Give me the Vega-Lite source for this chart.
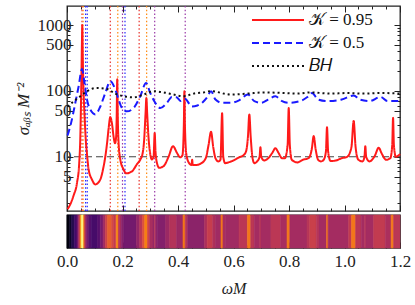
{
 "$schema": "https://vega.github.io/schema/vega-lite/v6.json",
 "padding": {"left": 13, "top": 4, "right": 2, "bottom": 4},
 "background": "white",
 "config": {
  "font": "Liberation Serif",
  "view": {"stroke": "#222", "strokeWidth": 1.3},
  "axis": {"labelFont": "Liberation Serif", "titleFont": "Liberation Serif", "labelFontSize": 17, "titleFontSize": 17, "labelColor": "#222", "titleColor": "#222", "titleFontWeight": "normal", "grid": false, "domain": false, "tickColor": "#222", "labelOverlap": false, "labelFlush": false, "labelBound": false},
  "legend": {"labelFont": "Liberation Serif", "labelFontSize": 17, "labelColor": "#111"}
 },
 "datasets": {
  "curves": [
   {"s":"𝒦 = 0.95","x":0.002,"v":1.6},{"s":"𝒦 = 0.95","x":0.012,"v":1.9},{"s":"𝒦 = 0.95","x":0.024,"v":2.6},{"s":"𝒦 = 0.95","x":0.036,"v":4.0},{"s":"𝒦 = 0.95","x":0.044,"v":8},{"s":"𝒦 = 0.95","x":0.048,"v":20},{"s":"𝒦 = 0.95","x":0.051,"v":90},{"s":"𝒦 = 0.95","x":0.054,"v":600},{"s":"𝒦 = 0.95","x":0.055,"v":1000},{"s":"𝒦 = 0.95","x":0.057,"v":300},{"s":"𝒦 = 0.95","x":0.060,"v":90},{"s":"𝒦 = 0.95","x":0.063,"v":45},{"s":"𝒦 = 0.95","x":0.067,"v":20},{"s":"𝒦 = 0.95","x":0.072,"v":11},{"s":"𝒦 = 0.95","x":0.078,"v":6.4},{"s":"𝒦 = 0.95","x":0.09,"v":4.5},{"s":"𝒦 = 0.95","x":0.102,"v":3.8},{"s":"𝒦 = 0.95","x":0.12,"v":4.5},{"s":"𝒦 = 0.95","x":0.13,"v":6.5},{"s":"𝒦 = 0.95","x":0.138,"v":10},{"s":"𝒦 = 0.95","x":0.145,"v":17},{"s":"𝒦 = 0.95","x":0.150,"v":27},{"s":"𝒦 = 0.95","x":0.156,"v":40},{"s":"𝒦 = 0.95","x":0.162,"v":32},{"s":"𝒦 = 0.95","x":0.168,"v":20},{"s":"𝒦 = 0.95","x":0.173,"v":16},{"s":"𝒦 = 0.95","x":0.177,"v":20},{"s":"𝒦 = 0.95","x":0.179,"v":40},{"s":"𝒦 = 0.95","x":0.181,"v":150},{"s":"𝒦 = 0.95","x":0.183,"v":40},{"s":"𝒦 = 0.95","x":0.186,"v":16},{"s":"𝒦 = 0.95","x":0.192,"v":9.1},{"s":"𝒦 = 0.95","x":0.204,"v":6.4},{"s":"𝒦 = 0.95","x":0.213,"v":5.6},{"s":"𝒦 = 0.95","x":0.234,"v":6.0},{"s":"𝒦 = 0.95","x":0.252,"v":7.7},{"s":"𝒦 = 0.95","x":0.265,"v":9.2},{"s":"𝒦 = 0.95","x":0.272,"v":11},{"s":"𝒦 = 0.95","x":0.278,"v":18},{"s":"𝒦 = 0.95","x":0.283,"v":45},{"s":"𝒦 = 0.95","x":0.286,"v":78},{"s":"𝒦 = 0.95","x":0.289,"v":45},{"s":"𝒦 = 0.95","x":0.293,"v":22},{"s":"𝒦 = 0.95","x":0.300,"v":11},{"s":"𝒦 = 0.95","x":0.306,"v":9.1},{"s":"𝒦 = 0.95","x":0.312,"v":10},{"s":"𝒦 = 0.95","x":0.316,"v":23},{"s":"𝒦 = 0.95","x":0.319,"v":12},{"s":"𝒦 = 0.95","x":0.324,"v":8.1},{"s":"𝒦 = 0.95","x":0.332,"v":6.8},{"s":"𝒦 = 0.95","x":0.348,"v":7.2},{"s":"𝒦 = 0.95","x":0.366,"v":10},{"s":"𝒦 = 0.95","x":0.382,"v":14.5},{"s":"𝒦 = 0.95","x":0.396,"v":11.5},{"s":"𝒦 = 0.95","x":0.408,"v":9.8},{"s":"𝒦 = 0.95","x":0.416,"v":10.5},{"s":"𝒦 = 0.95","x":0.421,"v":30},{"s":"𝒦 = 0.95","x":0.423,"v":99},{"s":"𝒦 = 0.95","x":0.425,"v":30},{"s":"𝒦 = 0.95","x":0.43,"v":11},{"s":"𝒦 = 0.95","x":0.44,"v":8},{"s":"𝒦 = 0.95","x":0.449,"v":7.5},{"s":"𝒦 = 0.95","x":0.451,"v":9},{"s":"𝒦 = 0.95","x":0.453,"v":7.5},{"s":"𝒦 = 0.95","x":0.465,"v":7.5},{"s":"𝒦 = 0.95","x":0.48,"v":7.8},{"s":"𝒦 = 0.95","x":0.50,"v":9.5},{"s":"𝒦 = 0.95","x":0.51,"v":15},{"s":"𝒦 = 0.95","x":0.519,"v":24},{"s":"𝒦 = 0.95","x":0.527,"v":14},{"s":"𝒦 = 0.95","x":0.535,"v":9.5},{"s":"𝒦 = 0.95","x":0.545,"v":8.5},{"s":"𝒦 = 0.95","x":0.553,"v":9},{"s":"𝒦 = 0.95","x":0.559,"v":46},{"s":"𝒦 = 0.95","x":0.563,"v":10},{"s":"𝒦 = 0.95","x":0.57,"v":8},{"s":"𝒦 = 0.95","x":0.585,"v":8.3},{"s":"𝒦 = 0.95","x":0.60,"v":8.8},{"s":"𝒦 = 0.95","x":0.62,"v":9.8},{"s":"𝒦 = 0.95","x":0.635,"v":10.5},{"s":"𝒦 = 0.95","x":0.645,"v":12},{"s":"𝒦 = 0.95","x":0.652,"v":20},{"s":"𝒦 = 0.95","x":0.657,"v":44},{"s":"𝒦 = 0.95","x":0.662,"v":20},{"s":"𝒦 = 0.95","x":0.668,"v":10},{"s":"𝒦 = 0.95","x":0.675,"v":8},{"s":"𝒦 = 0.95","x":0.685,"v":8.5},{"s":"𝒦 = 0.95","x":0.694,"v":10},{"s":"𝒦 = 0.95","x":0.697,"v":14},{"s":"𝒦 = 0.95","x":0.700,"v":10},{"s":"𝒦 = 0.95","x":0.71,"v":8.8},{"s":"𝒦 = 0.95","x":0.725,"v":9.5},{"s":"𝒦 = 0.95","x":0.74,"v":11.5},{"s":"𝒦 = 0.95","x":0.751,"v":13.5},{"s":"𝒦 = 0.95","x":0.762,"v":11.5},{"s":"𝒦 = 0.95","x":0.775,"v":9.5},{"s":"𝒦 = 0.95","x":0.785,"v":9.5},{"s":"𝒦 = 0.95","x":0.795,"v":15},{"s":"𝒦 = 0.95","x":0.799,"v":55},{"s":"𝒦 = 0.95","x":0.803,"v":15},{"s":"𝒦 = 0.95","x":0.81,"v":9},{"s":"𝒦 = 0.95","x":0.83,"v":8.2},{"s":"𝒦 = 0.95","x":0.85,"v":9},{"s":"𝒦 = 0.95","x":0.87,"v":9.5},{"s":"𝒦 = 0.95","x":0.882,"v":13},{"s":"𝒦 = 0.95","x":0.889,"v":20.6},{"s":"𝒦 = 0.95","x":0.896,"v":13},{"s":"𝒦 = 0.95","x":0.905,"v":9},{"s":"𝒦 = 0.95","x":0.915,"v":8.5},{"s":"𝒦 = 0.95","x":0.925,"v":9},{"s":"𝒦 = 0.95","x":0.933,"v":12},{"s":"𝒦 = 0.95","x":0.937,"v":28},{"s":"𝒦 = 0.95","x":0.941,"v":12},{"s":"𝒦 = 0.95","x":0.95,"v":8.6},{"s":"𝒦 = 0.95","x":0.97,"v":8.8},{"s":"𝒦 = 0.95","x":0.99,"v":9.5},{"s":"𝒦 = 0.95","x":1.01,"v":10},{"s":"𝒦 = 0.95","x":1.025,"v":14},{"s":"𝒦 = 0.95","x":1.033,"v":35},{"s":"𝒦 = 0.95","x":1.04,"v":14},{"s":"𝒦 = 0.95","x":1.05,"v":9},{"s":"𝒦 = 0.95","x":1.065,"v":8.5},{"s":"𝒦 = 0.95","x":1.072,"v":10},{"s":"𝒦 = 0.95","x":1.075,"v":14.5},{"s":"𝒦 = 0.95","x":1.078,"v":10},{"s":"𝒦 = 0.95","x":1.09,"v":8.5},{"s":"𝒦 = 0.95","x":1.11,"v":10.5},{"s":"𝒦 = 0.95","x":1.123,"v":13.7},{"s":"𝒦 = 0.95","x":1.135,"v":11},{"s":"𝒦 = 0.95","x":1.15,"v":9},{"s":"𝒦 = 0.95","x":1.165,"v":9.5},{"s":"𝒦 = 0.95","x":1.172,"v":15},{"s":"𝒦 = 0.95","x":1.175,"v":39},{"s":"𝒦 = 0.95","x":1.178,"v":15},{"s":"𝒦 = 0.95","x":1.185,"v":10},{"s":"𝒦 = 0.95","x":1.2,"v":11},
   {"s":"𝒦 = 0.5","x":0.002,"v":21},{"s":"𝒦 = 0.5","x":0.015,"v":33},{"s":"𝒦 = 0.5","x":0.03,"v":66},{"s":"𝒦 = 0.5","x":0.042,"v":118},{"s":"𝒦 = 0.5","x":0.054,"v":215},{"s":"𝒦 = 0.5","x":0.063,"v":132},{"s":"𝒦 = 0.5","x":0.072,"v":74},{"s":"𝒦 = 0.5","x":0.084,"v":52},{"s":"𝒦 = 0.5","x":0.102,"v":44},{"s":"𝒦 = 0.5","x":0.12,"v":58},{"s":"𝒦 = 0.5","x":0.138,"v":93},{"s":"𝒦 = 0.5","x":0.156,"v":140},{"s":"𝒦 = 0.5","x":0.174,"v":105},{"s":"𝒦 = 0.5","x":0.186,"v":74},{"s":"𝒦 = 0.5","x":0.198,"v":55},{"s":"𝒦 = 0.5","x":0.216,"v":49},{"s":"𝒦 = 0.5","x":0.24,"v":55},{"s":"𝒦 = 0.5","x":0.264,"v":83},{"s":"𝒦 = 0.5","x":0.285,"v":132},{"s":"𝒦 = 0.5","x":0.30,"v":93},{"s":"𝒦 = 0.5","x":0.318,"v":66},{"s":"𝒦 = 0.5","x":0.336,"v":55},{"s":"𝒦 = 0.5","x":0.36,"v":66},{"s":"𝒦 = 0.5","x":0.378,"v":81},{"s":"𝒦 = 0.5","x":0.395,"v":80},{"s":"𝒦 = 0.5","x":0.41,"v":70},{"s":"𝒦 = 0.5","x":0.425,"v":76},{"s":"𝒦 = 0.5","x":0.45,"v":58},{"s":"𝒦 = 0.5","x":0.47,"v":60},{"s":"𝒦 = 0.5","x":0.49,"v":68},{"s":"𝒦 = 0.5","x":0.505,"v":80},{"s":"𝒦 = 0.5","x":0.519,"v":99},{"s":"𝒦 = 0.5","x":0.535,"v":74},{"s":"𝒦 = 0.5","x":0.56,"v":66},{"s":"𝒦 = 0.5","x":0.59,"v":66},{"s":"𝒦 = 0.5","x":0.62,"v":72},{"s":"𝒦 = 0.5","x":0.652,"v":88},{"s":"𝒦 = 0.5","x":0.675,"v":70},{"s":"𝒦 = 0.5","x":0.70,"v":66},{"s":"𝒦 = 0.5","x":0.725,"v":74},{"s":"𝒦 = 0.5","x":0.751,"v":83},{"s":"𝒦 = 0.5","x":0.775,"v":70},{"s":"𝒦 = 0.5","x":0.80,"v":66},{"s":"𝒦 = 0.5","x":0.84,"v":70},{"s":"𝒦 = 0.5","x":0.865,"v":80},{"s":"𝒦 = 0.5","x":0.883,"v":93},{"s":"𝒦 = 0.5","x":0.905,"v":74},{"s":"𝒦 = 0.5","x":0.94,"v":70},{"s":"𝒦 = 0.5","x":0.99,"v":74},{"s":"𝒦 = 0.5","x":1.033,"v":85},{"s":"𝒦 = 0.5","x":1.055,"v":74},{"s":"𝒦 = 0.5","x":1.09,"v":70},{"s":"𝒦 = 0.5","x":1.13,"v":81},{"s":"𝒦 = 0.5","x":1.155,"v":70},{"s":"𝒦 = 0.5","x":1.2,"v":70},
   {"s":"𝐵𝐻","x":0.002,"v":58},{"s":"𝐵𝐻","x":0.025,"v":70},{"s":"𝐵𝐻","x":0.048,"v":83},{"s":"𝐵𝐻","x":0.072,"v":99},{"s":"𝐵𝐻","x":0.108,"v":111},{"s":"𝐵𝐻","x":0.144,"v":107},{"s":"𝐵𝐻","x":0.174,"v":91},{"s":"𝐵𝐻","x":0.204,"v":83},{"s":"𝐵𝐻","x":0.24,"v":80},{"s":"𝐵𝐻","x":0.276,"v":88},{"s":"𝐵𝐻","x":0.312,"v":99},{"s":"𝐵𝐻","x":0.348,"v":95},{"s":"𝐵𝐻","x":0.384,"v":88},{"s":"𝐵𝐻","x":0.42,"v":83},{"s":"𝐵𝐻","x":0.456,"v":91},{"s":"𝐵𝐻","x":0.492,"v":95},{"s":"𝐵𝐻","x":0.52,"v":99},{"s":"𝐵𝐻","x":0.59,"v":88},{"s":"𝐵𝐻","x":0.65,"v":91},{"s":"𝐵𝐻","x":0.71,"v":95},{"s":"𝐵𝐻","x":0.78,"v":93},{"s":"𝐵𝐻","x":0.83,"v":91},{"s":"𝐵𝐻","x":0.88,"v":95},{"s":"𝐵𝐻","x":0.95,"v":91},{"s":"𝐵𝐻","x":1.01,"v":93},{"s":"𝐵𝐻","x":1.07,"v":91},{"s":"𝐵𝐻","x":1.13,"v":93},{"s":"𝐵𝐻","x":1.2,"v":91}
  ],
  "marks": [
   {"x":0.054,"g":"r"},{"x":0.156,"g":"r"},{"x":0.26,"g":"r"},
   {"x":0.058,"g":"o"},{"x":0.183,"g":"o"},{"x":0.287,"g":"o"},
   {"x":0.067,"g":"b"},{"x":0.073,"g":"b"},{"x":0.209,"g":"b"},
   {"x":0.2,"g":"p"},{"x":0.316,"g":"p"},{"x":0.426,"g":"p"}
  ],
  "strip": [
   {"a":0,"b":0.008,"c":0.02},{"a":0.008,"b":0.016,"c":0.07},{"a":0.016,"b":0.026,"c":0.13},{"a":0.026,"b":0.036,"c":0.2},{"a":0.036,"b":0.042,"c":0.32},{"a":0.042,"b":0.047,"c":0.48},{"a":0.047,"b":0.051,"c":0.72},{"a":0.051,"b":0.054,"c":0.92},{"a":0.054,"b":0.058,"c":1.0},{"a":0.058,"b":0.061,"c":0.85},{"a":0.061,"b":0.065,"c":0.62},{"a":0.065,"b":0.07,"c":0.45},{"a":0.07,"b":0.078,"c":0.33},{"a":0.078,"b":0.088,"c":0.25},{"a":0.088,"b":0.11,"c":0.21},{"a":0.11,"b":0.12,"c":0.25},{"a":0.12,"b":0.13,"c":0.33},{"a":0.13,"b":0.138,"c":0.43},{"a":0.138,"b":0.146,"c":0.55},{"a":0.146,"b":0.16,"c":0.64},{"a":0.16,"b":0.168,"c":0.58},{"a":0.168,"b":0.176,"c":0.52},{"a":0.176,"b":0.179,"c":0.6},{"a":0.179,"b":0.184,"c":0.78},{"a":0.184,"b":0.188,"c":0.55},{"a":0.188,"b":0.196,"c":0.45},{"a":0.196,"b":0.204,"c":0.37},{"a":0.204,"b":0.25,"c":0.32},{"a":0.25,"b":0.262,"c":0.4},{"a":0.262,"b":0.272,"c":0.5},{"a":0.272,"b":0.28,"c":0.6},{"a":0.28,"b":0.29,"c":0.72},{"a":0.29,"b":0.298,"c":0.55},{"a":0.298,"b":0.31,"c":0.45},{"a":0.31,"b":0.315,"c":0.4},{"a":0.315,"b":0.319,"c":0.5},{"a":0.319,"b":0.325,"c":0.4},{"a":0.325,"b":0.355,"c":0.36},{"a":0.355,"b":0.37,"c":0.42},{"a":0.37,"b":0.395,"c":0.48},{"a":0.395,"b":0.418,"c":0.42},{"a":0.418,"b":0.426,"c":0.7},{"a":0.426,"b":0.435,"c":0.48},{"a":0.435,"b":0.495,"c":0.38},{"a":0.495,"b":0.505,"c":0.46},{"a":0.505,"b":0.525,"c":0.53},{"a":0.525,"b":0.535,"c":0.47},{"a":0.535,"b":0.555,"c":0.43},{"a":0.555,"b":0.562,"c":0.7},{"a":0.562,"b":0.57,"c":0.46},{"a":0.57,"b":0.62,"c":0.43},{"a":0.62,"b":0.65,"c":0.5},{"a":0.65,"b":0.662,"c":0.7},{"a":0.662,"b":0.675,"c":0.5},{"a":0.675,"b":0.695,"c":0.44},{"a":0.695,"b":0.699,"c":0.5},{"a":0.699,"b":0.735,"c":0.44},{"a":0.735,"b":0.77,"c":0.5},{"a":0.77,"b":0.793,"c":0.45},{"a":0.793,"b":0.803,"c":0.7},{"a":0.803,"b":0.865,"c":0.44},{"a":0.865,"b":0.875,"c":0.49},{"a":0.875,"b":0.898,"c":0.54},{"a":0.898,"b":0.908,"c":0.49},{"a":0.908,"b":0.935,"c":0.44},{"a":0.935,"b":0.941,"c":0.68},{"a":0.941,"b":1.015,"c":0.44},{"a":1.015,"b":1.025,"c":0.52},{"a":1.025,"b":1.04,"c":0.7},{"a":1.04,"b":1.06,"c":0.5},{"a":1.06,"b":1.073,"c":0.44},{"a":1.073,"b":1.077,"c":0.5},{"a":1.077,"b":1.105,"c":0.44},{"a":1.105,"b":1.147,"c":0.52},{"a":1.147,"b":1.168,"c":0.46},{"a":1.168,"b":1.177,"c":0.7},{"a":1.177,"b":1.2,"c":0.5}
  ]
 },
 "vconcat": [
  {
   "width": 333, "height": 205,
   "layer": [
    {
     "data": {"name": "marks"},
     "mark": {"type": "rule", "strokeDash": [1.5, 2.2]},
     "encoding": {
      "x": {"field": "x", "type": "quantitative", "scale": {"domain": [0, 1.2], "nice": false, "zero": false},
       "axis": {"orient": "bottom", "title": null, "labels": false, "values": [0,0.05,0.1,0.15,0.2,0.25,0.3,0.35,0.4,0.45,0.5,0.55,0.6,0.65,0.7,0.75,0.8,0.85,0.9,0.95,1,1.05,1.1,1.15,1.2], "tickSize": {"condition": {"test": "abs(datum.value*5 - round(datum.value*5)) < 0.01", "value": -6}, "value": -3}}},
      "color": {"field": "g", "type": "nominal", "scale": {"domain": ["r", "o", "b", "p"], "range": ["#e8302a", "#ff8a10", "#2a2aff", "#9a3aa8"]}, "legend": null},
      "size": {"field": "g", "type": "nominal", "scale": {"domain": ["r", "o", "b", "p"], "range": [1.2, 1.2, 2, 1.3]}, "legend": null}
     }
    },
    {
     "data": {"values": [{}]},
     "mark": {"type": "rule", "color": "#444", "strokeDash": [7, 4], "strokeWidth": 1.2},
     "encoding": {
      "y": {"datum": 10, "type": "quantitative",
       "axis": {"orient": "left", "title": "σₐᵦₛ M⁻²", "titleFontStyle": "italic", "titlePadding": 5, "labelPadding": 2, "labelOverlap": false, "values": [2,3,4,5,6,7,8,9,10,20,30,40,50,60,70,80,90,100,200,300,400,500,600,700,800,900,1000], "labelExpr": "indexof([5,10,50,100,500,1000], datum.value) >= 0 ? datum.value + '' : ''", "tickSize": {"condition": {"test": "indexof([5,10,50,100,500,1000], datum.value) >= 0", "value": -6}, "value": -3}}}
     }
    },
    {
     "data": {"name": "curves"},
     "mark": {"type": "line", "interpolate": "monotone", "strokeWidth": 2},
     "encoding": {
      "x": {"field": "x", "type": "quantitative", "scale": {"domain": [0, 1.2], "nice": false, "zero": false},
       "axis": {"orient": "top", "title": null, "labels": false, "values": [0,0.05,0.1,0.15,0.2,0.25,0.3,0.35,0.4,0.45,0.5,0.55,0.6,0.65,0.7,0.75,0.8,0.85,0.9,0.95,1,1.05,1.1,1.15,1.2], "tickSize": {"condition": {"test": "abs(datum.value*5 - round(datum.value*5)) < 0.01", "value": -6}, "value": -3}}},
      "y": {"field": "v", "type": "quantitative", "scale": {"type": "log", "domain": [1.5, 1950], "nice": false},
       "axis": {"orient": "right", "title": null, "labels": false, "values": [2,3,4,5,6,7,8,9,10,20,30,40,50,60,70,80,90,100,200,300,400,500,600,700,800,900,1000], "tickSize": {"condition": {"test": "indexof([5,10,50,100,500,1000], datum.value) >= 0", "value": -6}, "value": -3}}},
      "color": {"field": "s", "type": "nominal", "title": null, "scale": {"domain": ["𝒦 = 0.95", "𝒦 = 0.5", "𝐵𝐻"], "range": ["#ff1a1a", "#1a1aff", "#111111"]},
       "legend": {"orient": "none", "legendX": 197, "legendY": 0, "padding": 0, "symbolType": "M-2,0H2", "symbolSize": 676, "symbolStrokeWidth": 2, "symbolFillColor": "transparent", "rowPadding": 1, "labelOffset": 17}},
      "strokeDash": {"field": "s", "type": "nominal", "title": null, "scale": {"domain": ["𝒦 = 0.95", "𝒦 = 0.5", "𝐵𝐻"], "range": [[1, 0], [7, 4], [2, 3]]},
       "legend": {"orient": "none", "legendX": 197, "legendY": 0, "padding": 0, "symbolType": "M-2,0H2", "symbolSize": 676, "symbolStrokeWidth": 2, "symbolFillColor": "transparent", "rowPadding": 1, "labelOffset": 17}}
     }
    }
   ],
   "resolve": {"scale": {"color": "independent", "size": "independent", "strokeDash": "independent"}, "axis": {"x": "independent", "y": "independent"}}
  },
  {
   "width": 333, "height": 33,
   "data": {"name": "strip"},
   "mark": {"type": "rect", "strokeWidth": 0.6},
   "encoding": {
    "x": {"field": "a", "type": "quantitative", "scale": {"domain": [0, 1.2], "nice": false, "zero": false},
     "axis": {"orient": "bottom", "title": "ωM", "titleFontStyle": "italic", "titleFontSize": 16, "titlePadding": 8, "labelPadding": 11, "values": [0,0.05,0.1,0.15,0.2,0.25,0.3,0.35,0.4,0.45,0.5,0.55,0.6,0.65,0.7,0.75,0.8,0.85,0.9,0.95,1,1.05,1.1,1.15,1.2], "labelExpr": "abs(datum.value*5 - round(datum.value*5)) < 0.01 ? format(datum.value, '.1f') : ''", "tickSize": {"condition": {"test": "abs(datum.value*5 - round(datum.value*5)) < 0.01", "value": -6}, "value": -3}}},
    "x2": {"field": "b"},
    "color": {"field": "c", "type": "quantitative", "scale": {"scheme": "inferno", "domain": [0, 1]}, "legend": null},
    "stroke": {"field": "c", "type": "quantitative", "scale": {"scheme": "inferno", "domain": [0, 1]}, "legend": null}
   }
  }
 ],
 "spacing": 0,
 "resolve": {"scale": {"color": "independent", "stroke": "independent", "x": "independent"}, "legend": {"color": "independent", "strokeDash": "independent"}}
}
